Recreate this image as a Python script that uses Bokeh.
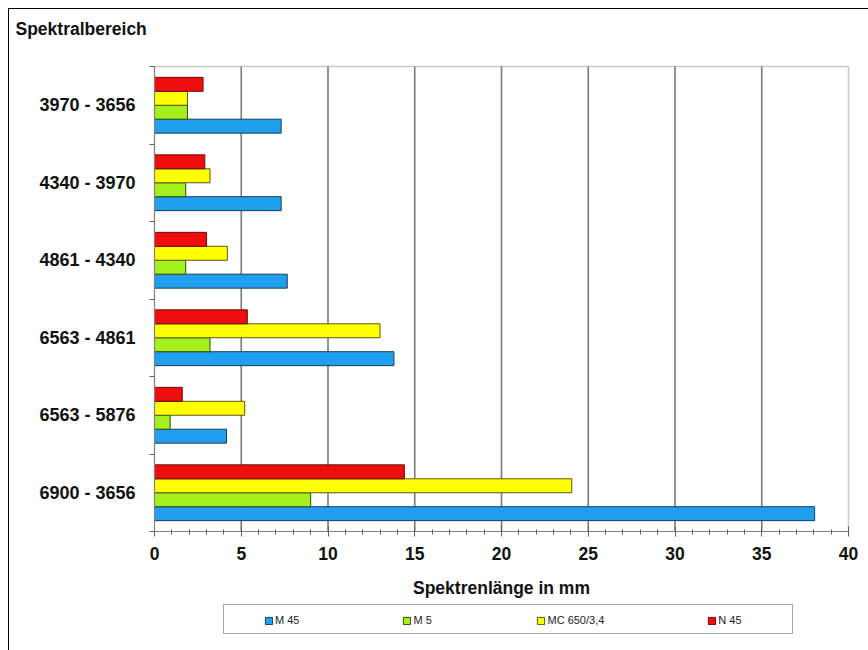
from bokeh.plotting import figure
from bokeh.models import (ColumnDataSource, Range1d, FixedTicker, SingleIntervalTicker,
                          Legend, LegendItem, Label)
from bokeh.transform import dodge
from bokeh.embed import file_html
from bokeh.resources import INLINE

# ---- data ----
categories = ["3970 - 3656", "4340 - 3970", "4861 - 4340",
              "6563 - 4861", "6563 - 5876", "6900 - 3656"]
series_names = ["M 45", "M 5", "MC 650/3,4", "N 45"]
m45 = [7.3, 7.3, 7.65, 13.8, 4.15, 38.05]
m5 = [1.9, 1.8, 1.8, 3.2, 0.9, 9.0]
mc650 = [1.9, 3.2, 4.2, 13.0, 5.2, 24.05]
n45 = [2.8, 2.9, 3.0, 5.35, 1.6, 14.4]
x_ticks = [0, 5, 10, 15, 20, 25, 30, 35, 40]

# ---- styles ----
colors = ["#1f9fee", "#a4f01c", "#ffff00", "#f00d0d"]
outlines = ["#1d3c55", "#2f4a10", "#5a5a10", "#6a0c0c"]
offsets = [-0.27, -0.09, 0.09, 0.27]
FONT = "Liberation Sans"
FS = "17.5px"

# ---- layout geometry (pixels within the 860x642 canvas placed at 8,8) ----
W, H = 860, 642
PLOT_L, PLOT_R, PLOT_T, PLOT_B = 145, 839, 57, 522   # plot area edges in canvas px

n = len(categories)
xmax = x_ticks[-1]
sx = (PLOT_R - PLOT_L) / xmax
sy = (PLOT_B - PLOT_T) / n
x_range = Range1d(-PLOT_L / sx, xmax + (W - PLOT_R) / sx)
y_range = Range1d(-(H - PLOT_B) / sy, n + PLOT_T / sy)

ypos = [n - i - 0.5 for i in range(n)]
src = ColumnDataSource(dict(y=ypos, cat=categories, m45=m45, m5=m5, mc650=mc650, n45=n45))

p = figure(width=W, height=H, margin=(8, 0, 0, 8), x_range=x_range, y_range=y_range,
           output_backend="svg", toolbar_location=None,
           min_border_left=0, min_border_right=0, min_border_top=0, min_border_bottom=0)
p.styles = {"border-top": "1px solid #000000", "border-left": "1px solid #000000"}
p.outline_line_color = None
p.background_fill_color = "white"
p.border_fill_color = "white"
p.xgrid.visible = False
p.ygrid.visible = False

# plot-area border (top and right, light grey) and vertical grid lines
p.segment(x0=[0, xmax], y0=[n, 0], x1=[xmax, xmax], y1=[n, n], line_color="#c8c8c8", line_width=1.5)
gx = x_ticks[1:-1]
p.segment(x0=gx, y0=[0] * len(gx), x1=gx, y1=[n] * len(gx), line_color="#7a7a7a", line_width=1.6)

fields = ["m45", "m5", "mc650", "n45"]
bars = []
for field, col, oc, off in zip(fields, colors, outlines, offsets):
    bars.append(p.hbar(y=dodge("y", off, range=p.y_range), left=0, right=field, height=0.18,
                       fill_color=col, line_color=oc, line_width=1, source=src))

# x axis
xa = p.xaxis[0]
xa.fixed_location = 0
xa.bounds = (0, xmax)
xa.ticker = SingleIntervalTicker(interval=5, num_minor_ticks=5)
xa.axis_line_color = "#808080"
xa.axis_line_width = 1.2
xa.major_tick_line_color = "#606060"
xa.major_tick_in = 5
xa.major_tick_out = 5
xa.minor_tick_line_color = "#606060"
xa.minor_tick_in = 2
xa.minor_tick_out = 3
xa.major_label_standoff = 10
xa.major_label_text_font = FONT
xa.major_label_text_font_style = "bold"
xa.major_label_text_font_size = FS
xa.major_label_text_color = "#111111"
xa.axis_label = "Spektrenlänge in mm"
xa.axis_label_text_font = FONT
xa.axis_label_text_font_style = "bold"
xa.axis_label_text_font_size = FS
xa.axis_label_text_color = "#111111"
xa.axis_label_standoff = 15

# y axis
ya = p.yaxis[0]
ya.fixed_location = 0
ya.bounds = (0, n)
ya.ticker = FixedTicker(ticks=ypos, minor_ticks=list(range(n + 1)))
ya.major_label_overrides = {y: c for y, c in zip(ypos, categories)}
ya.axis_line_color = "#808080"
ya.axis_line_width = 1.2
ya.major_tick_in = 0
ya.major_tick_out = 0
ya.minor_tick_line_color = "#606060"
ya.minor_tick_in = 0
ya.minor_tick_out = 5
ya.major_label_standoff = 14
ya.major_label_text_font = FONT
ya.major_label_text_font_style = "bold"
ya.major_label_text_font_size = "18px"
ya.major_label_text_color = "#111111"

# title at top left
p.add_layout(Label(x=6, y=H - 19, x_units="screen", y_units="screen", text="Spektralbereich",
                   text_font=FONT, text_font_style="bold", text_font_size=FS,
                   text_color="#111111", text_align="left", text_baseline="middle"))

# legend frame
ghost = p.hbar(y="y", left=0, right="m45", height=0.1, fill_alpha=0, line_alpha=0, source=src)
box = Legend(items=[LegendItem(label=" ", renderers=[ghost])], location=(214, 17),
             orientation="horizontal", padding=0, spacing=0, margin=0,
             glyph_width=1, glyph_height=28, label_standoff=0, label_width=567, label_height=28,
             border_line_color="#555555", border_line_width=1.5,
             background_fill_color="white", background_fill_alpha=1)
p.add_layout(box)

legend = Legend(items=[LegendItem(label=nm, renderers=[r]) for nm, r in zip(series_names, bars)],
                location=(255, 25), orientation="horizontal", padding=0, spacing=103, margin=0,
                glyph_width=9, glyph_height=9, label_standoff=2, label_height=12,
                label_text_font=FONT, label_text_font_size="11px", label_text_color="#222222",
                border_line_color=None, background_fill_alpha=0)
p.add_layout(legend)

open("out.html", "w").write(file_html(p, INLINE))
